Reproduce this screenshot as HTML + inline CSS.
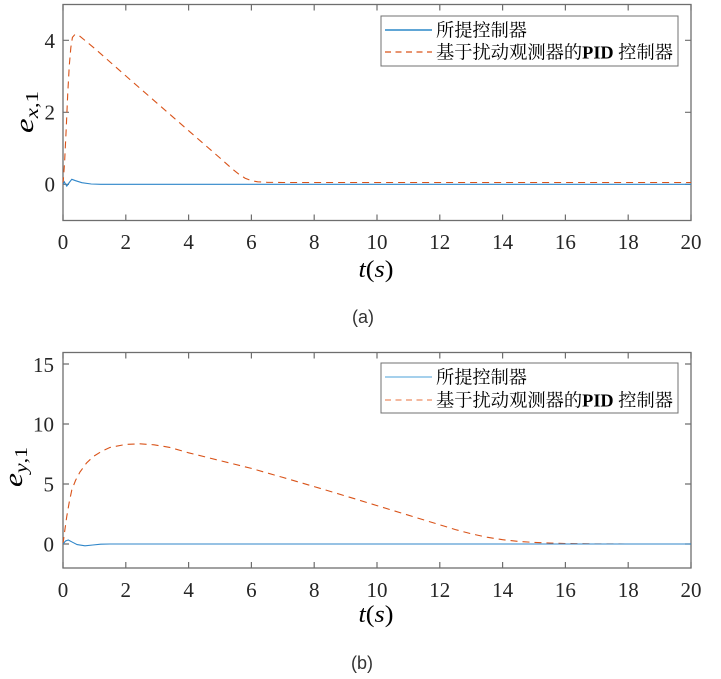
<!DOCTYPE html>
<html><head><meta charset="utf-8"><style>
html,body{margin:0;padding:0;background:#fff;}
svg{display:block;}
.tk{font-family:"Liberation Serif","Noto Serif CJK SC",serif;font-size:21px;fill:#262626;}
.lg{font-family:"Liberation Serif","Noto Serif CJK SC",serif;font-size:18px;fill:#000;}
.cap{font-family:"Liberation Sans","Noto Sans CJK SC",sans-serif;font-size:18px;fill:#333;}
.ax{font-family:"Liberation Serif",serif;fill:#000;}
</style></head><body>
<svg width="721" height="679" viewBox="0 0 721 679" xmlns="http://www.w3.org/2000/svg">
<rect width="721" height="679" fill="#fff"/>

<!-- ===== TOP PLOT ===== -->
<rect x="63" y="4.5" width="628" height="216" fill="#fff" stroke="#6e6e6e" stroke-width="1.3"/>
<g stroke="#6e6e6e" stroke-width="1.2">
<!-- x ticks bottom/top -->
<path d="M63 220.5v-6M125.8 220.5v-6M188.6 220.5v-6M251.4 220.5v-6M314.2 220.5v-6M377 220.5v-6M439.8 220.5v-6M502.6 220.5v-6M565.4 220.5v-6M628.2 220.5v-6M691 220.5v-6"/>
<path d="M63 4.5v6M125.8 4.5v6M188.6 4.5v6M251.4 4.5v6M314.2 4.5v6M377 4.5v6M439.8 4.5v6M502.6 4.5v6M565.4 4.5v6M628.2 4.5v6M691 4.5v6"/>
<!-- y ticks -->
<path d="M63 184.3h6M63 112.3h6M63 40.3h6M691 184.3h-6M691 112.3h-6M691 40.3h-6"/>
</g>
<g class="tk" text-anchor="middle">
<text x="63" y="249">0</text><text x="125.8" y="249">2</text><text x="188.6" y="249">4</text><text x="251.4" y="249">6</text><text x="314.2" y="249">8</text><text x="377" y="249">10</text><text x="439.8" y="249">12</text><text x="502.6" y="249">14</text><text x="565.4" y="249">16</text><text x="628.2" y="249">18</text><text x="691" y="249">20</text>
</g>
<g class="tk" text-anchor="end">
<text x="55" y="191.5">0</text><text x="55" y="119.5">2</text><text x="55" y="47.8">4</text>
</g>
<!-- series -->
<polyline fill="none" stroke="#D95319" stroke-width="1.1" stroke-dasharray="7 5" points="63,184.3 64.57,162.7 66.14,130.3 67.71,94.3 69.28,65.5 70.85,47.5 72.42,37.4 74.93,34.5 78.7,35.26 94.4,48.2 125.8,75.9 157.2,103.3 188.6,130.7 220,158 232.56,169.2 238.84,174.2 245.12,178.2 251.4,180.7 257.68,181.8 267.1,182.3 282.8,182.5 691,182.5"/>
<polyline fill="none" stroke="#2f86c9" stroke-width="1.1" points="63,184.3 64.26,181.8 66.77,186.1 69.28,182.5 71.8,179.3 75.56,180.7 81.84,182.7 91.26,184 100.7,184.3 691,184.3"/>
<!-- legend -->
<rect x="381" y="16" width="297" height="50" fill="#fff" stroke="#707070" stroke-width="1"/>
<line x1="385" y1="30" x2="432" y2="30" stroke="#0072BD" stroke-width="1.2"/>
<line x1="385" y1="52" x2="432" y2="52" stroke="#D95319" stroke-width="1.2" stroke-dasharray="6 4.5"/>
<text class="lg" x="436" y="36.5" textLength="91" lengthAdjust="spacingAndGlyphs">所提控制器</text>
<text class="lg" x="436" y="58.5" textLength="237" lengthAdjust="spacingAndGlyphs">基于扰动观测器的<tspan font-weight="bold">PID</tspan> 控制器</text>
<!-- labels -->
<text class="ax" transform="translate(33,112) rotate(-90)" text-anchor="middle" font-size="26" textLength="42" lengthAdjust="spacingAndGlyphs"><tspan font-style="italic">e</tspan><tspan font-size="18" dy="5" font-style="italic">x</tspan><tspan font-size="18">,1</tspan></text>
<text class="ax" x="376" y="277" text-anchor="middle" font-size="24" textLength="35" lengthAdjust="spacingAndGlyphs"><tspan font-style="italic">t</tspan>(<tspan font-style="italic">s</tspan>)</text>
<text class="cap" x="363" y="323" text-anchor="middle">(a)</text>

<!-- ===== BOTTOM PLOT ===== -->
<rect x="63" y="352.5" width="628" height="215.5" fill="#fff" stroke="#6e6e6e" stroke-width="1.3"/>
<g stroke="#6e6e6e" stroke-width="1.2">
<path d="M63 568v-6M125.8 568v-6M188.6 568v-6M251.4 568v-6M314.2 568v-6M377 568v-6M439.8 568v-6M502.6 568v-6M565.4 568v-6M628.2 568v-6M691 568v-6"/>
<path d="M63 352.5v6M125.8 352.5v6M188.6 352.5v6M251.4 352.5v6M314.2 352.5v6M377 352.5v6M439.8 352.5v6M502.6 352.5v6M565.4 352.5v6M628.2 352.5v6M691 352.5v6"/>
<path d="M63 544h6M63 484h6M63 424h6M63 364h6M691 544h-6M691 484h-6M691 424h-6M691 364h-6"/>
</g>
<g class="tk" text-anchor="middle">
<text x="63" y="597">0</text><text x="125.8" y="597">2</text><text x="188.6" y="597">4</text><text x="251.4" y="597">6</text><text x="314.2" y="597">8</text><text x="377" y="597">10</text><text x="439.8" y="597">12</text><text x="502.6" y="597">14</text><text x="565.4" y="597">16</text><text x="628.2" y="597">18</text><text x="691" y="597">20</text>
</g>
<g class="tk" text-anchor="end">
<text x="54" y="551.5">0</text><text x="54" y="491.5">5</text><text x="54" y="431.5">10</text><text x="54" y="372">15</text>
</g>
<polyline fill="none" stroke="#D95319" stroke-width="1.1" stroke-dasharray="7 5" points="63,544 64.57,532 66.77,516.4 69.28,502 71.79,490 75.56,480.4 79.96,472 86.55,463 93.46,456.4 102.25,451 110.1,447.4 125.8,444.4 139.93,443.8 154.06,444.8 169.76,447.4 188.6,452.8 220,460.6 251.4,468.4 282.8,477.4 314.2,486.6 345.6,496 377,505.6 408.4,515.2 439.8,524.8 455.5,529.6 471.2,533.8 486.9,537.2 502.6,539.7 518.3,541.4 534,542.4 549.7,543 565.4,543.5 596.8,543.9 628.2,544 691,544"/>
<polyline fill="none" stroke="#2f86c9" stroke-width="1.1" points="63,544 65.5,541 68.3,540 72.4,542.2 77.1,544.6 85,545.8 92.8,545 100.7,544.2 110.1,544 691,544"/>
<rect x="381" y="363" width="297" height="50" fill="#fff" stroke="#707070" stroke-width="1"/>
<line x1="385" y1="377" x2="432" y2="377" stroke="#6fb3e0" stroke-width="1.2"/>
<line x1="385" y1="400" x2="432" y2="400" stroke="#f0a07e" stroke-width="1.4" stroke-dasharray="6 4.5"/>
<text class="lg" x="436" y="383.5" textLength="91" lengthAdjust="spacingAndGlyphs">所提控制器</text>
<text class="lg" x="436" y="406.5" textLength="237" lengthAdjust="spacingAndGlyphs">基于扰动观测器的<tspan font-weight="bold">PID</tspan> 控制器</text>
<text class="ax" transform="translate(22,467) rotate(-90)" text-anchor="middle" font-size="26" textLength="40" lengthAdjust="spacingAndGlyphs"><tspan font-style="italic">e</tspan><tspan font-size="18" dy="5" font-style="italic">y</tspan><tspan font-size="18">,1</tspan></text>
<text class="ax" x="376" y="622" text-anchor="middle" font-size="24" textLength="35" lengthAdjust="spacingAndGlyphs"><tspan font-style="italic">t</tspan>(<tspan font-style="italic">s</tspan>)</text>
<text class="cap" x="362" y="669" text-anchor="middle">(b)</text>
</svg>
</body></html>
